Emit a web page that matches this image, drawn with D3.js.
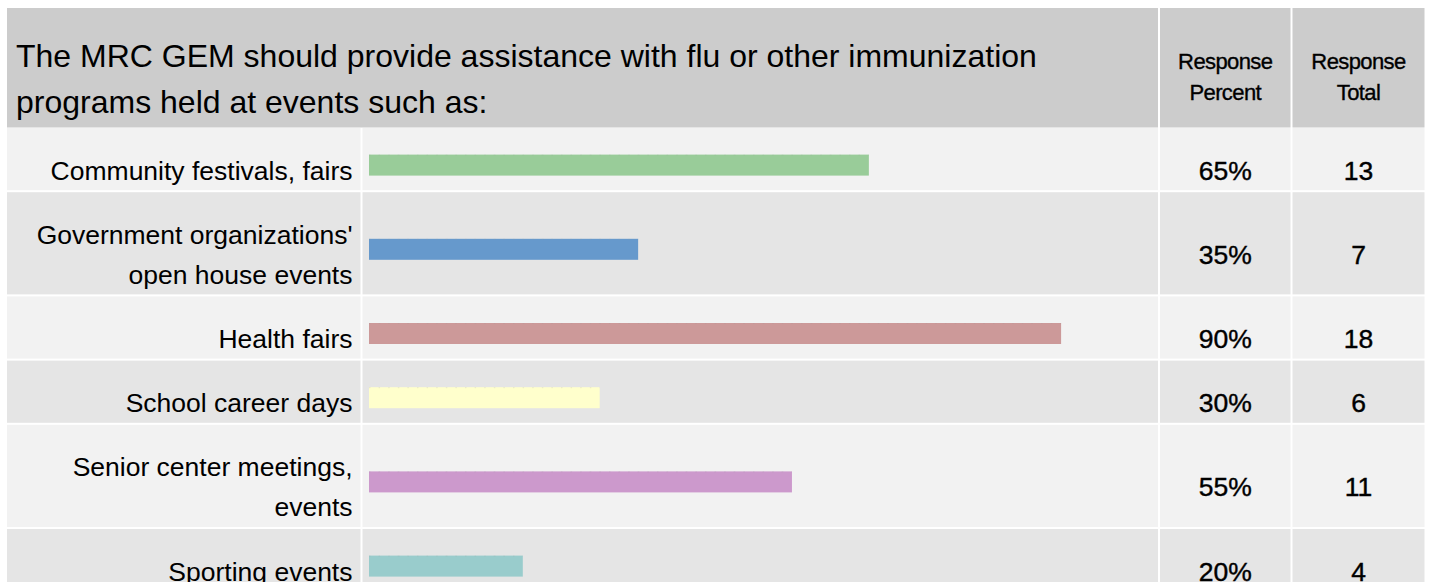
<!DOCTYPE html>
<html>
<head>
<meta charset="utf-8">
<script src="https://cdn.jsdelivr.net/npm/d3@7"></script>
<style>
  html, body { margin: 0; padding: 0; background: #ffffff; }
  svg { display: block; }
  text { font-family: "Liberation Sans", Arial, Helvetica, sans-serif; fill: #000; }
</style>
</head>
<body>
<svg id="chart" width="1432" height="582"></svg>
<script>
// Survey question and answers
const question = "The MRC GEM should provide assistance with flu or other immunization programs held at events such as:";
const categories = [
  "Community festivals, fairs",
  "Government organizations' open house events",
  "Health fairs",
  "School career days",
  "Senior center meetings, events",
  "Sporting events"
];
const responsePercent = [65, 35, 90, 30, 55, 20];
const responseTotal = [13, 7, 18, 6, 11, 4];
const barColors = ["#99cc99", "#6699cc", "#cc9999", "#ffffcc", "#cc99cc", "#99cccc"];
const headerLabels = [["Response", "Percent"], ["Response", "Total"]];

// Table geometry
const W = 1432, H = 582;
const gap = 2;
const tableX0 = 7, tableX1 = 1424.5;
const tableY0 = 8, headerH = 119.5;
const cols = {
  label: [tableX0, 360.5],
  bar:   [362.5, 1158],
  pct:   [1160, 1290.5],
  total: [1292.5, tableX1]
};
const labelLineH = 40, rowPad = 22.2;
const labelFont = 26.5, valueFont = 26.5, titleFont = 32;

const svg = d3.select("#chart");

// word wrap helper measured with the real font
function wrapText(str, maxWidth, fontSize) {
  const probe = svg.append("text").style("font-size", fontSize + "px");
  const words = str.split(" ");
  const lines = [];
  let line = "";
  for (const w of words) {
    const test = line ? line + " " + w : w;
    probe.text(test);
    if (probe.node().getComputedTextLength() > maxWidth && line) {
      lines.push(line);
      line = w;
    } else {
      line = test;
    }
  }
  if (line) lines.push(line);
  probe.remove();
  return lines;
}

// ---- header ----
const header = svg.append("g");
const headerCY = tableY0 + headerH / 2;
header.append("rect")
  .attr("x", tableX0).attr("y", tableY0)
  .attr("width", cols.bar[1] - tableX0).attr("height", headerH)
  .attr("fill", "#cccccc");
[cols.pct, cols.total].forEach(c => {
  header.append("rect")
    .attr("x", c[0]).attr("y", tableY0)
    .attr("width", c[1] - c[0]).attr("height", headerH)
    .attr("fill", "#cccccc");
});

const titleLines = wrapText(question, 1125, titleFont);
header.append("text")
  .attr("x", 16)
  .style("font-size", titleFont + "px")
  .selectAll("tspan").data(titleLines).join("tspan")
  .attr("x", 16)
  .attr("y", (d, i) => headerCY - 1 + i * 46.5)
  .text(d => d);

[cols.pct, cols.total].forEach((c, ci) => {
  header.append("text")
    .attr("text-anchor", "middle")
    .style("font-size", "22px")
    .style("letter-spacing", "-0.6px")
    .attr("stroke", "#000").attr("stroke-width", 0.35)
    .selectAll("tspan").data(headerLabels[ci]).join("tspan")
    .attr("x", (c[0] + c[1]) / 2)
    .attr("y", (d, i) => headerCY + 1 + i * 31)
    .text(d => d);
});

// ---- rows ----
const rows = categories.map((cat, i) => ({
  label: cat,
  lines: wrapText(cat, 332, labelFont),
  pct: responsePercent[i],
  total: responseTotal[i],
  color: barColors[i]
}));
let yCursor = tableY0 + headerH + 0.5;
rows.forEach((r, i) => {
  r.y = yCursor;
  r.h = r.lines.length * labelLineH + rowPad;
  r.cy = r.y + r.h / 2;
  r.bg = i % 2 === 0 ? "#f2f2f2" : "#e5e5e5";
  yCursor += r.h + gap;
});

const x = d3.scaleLinear()
  .domain([0, 100])
  .range([cols.bar[0] + 6.5, cols.bar[0] + 775.5]);
const barH = 21;

const rowG = svg.append("g").selectAll("g").data(rows).join("g");

// cell backgrounds
["label", "bar", "pct", "total"].forEach(k => {
  rowG.append("rect")
    .attr("x", cols[k][0]).attr("y", d => d.y)
    .attr("width", cols[k][1] - cols[k][0]).attr("height", d => d.h)
    .attr("fill", d => d.bg);
});

// answer labels (right aligned)
rowG.append("text")
  .attr("text-anchor", "end")
  .style("font-size", labelFont + "px")
  .each(function (d) {
    const n = d.lines.length;
    d3.select(this).selectAll("tspan").data(d.lines).join("tspan")
      .attr("x", 352.5)
      .attr("y", (l, j) => d.cy + 20.5 + (j - (n - 1) / 2) * labelLineH)
      .text(l => l);
  });

// bars
rowG.append("rect")
  .attr("x", x(0))
  .attr("y", d => d.cy + 6 - barH / 2)
  .attr("width", d => x(d.pct) - x(0))
  .attr("height", barH)
  .attr("fill", d => d.color);
// faint dotted top edge on each bar
rowG.append("line")
  .attr("x1", x(0)).attr("x2", d => x(d.pct))
  .attr("y1", d => d.cy + 6 - barH / 2 + 0.5)
  .attr("y2", d => d.cy + 6 - barH / 2 + 0.5)
  .attr("stroke", "#999")
  .attr("stroke-opacity", 0.2)
  .attr("stroke-dasharray", "1.5,8.1");

// response percent and total
rowG.append("text")
  .attr("text-anchor", "middle")
  .style("font-size", valueFont + "px")
  .attr("stroke", "#000").attr("stroke-width", 0.4)
  .attr("x", (cols.pct[0] + cols.pct[1]) / 2)
  .attr("y", d => d.cy + 20.5)
  .text(d => d.pct + "%");
rowG.append("text")
  .attr("text-anchor", "middle")
  .style("font-size", valueFont + "px")
  .attr("stroke", "#000").attr("stroke-width", 0.4)
  .attr("x", (cols.total[0] + cols.total[1]) / 2)
  .attr("y", d => d.cy + 20.5)
  .text(d => d.total);
</script>
</body>
</html>
